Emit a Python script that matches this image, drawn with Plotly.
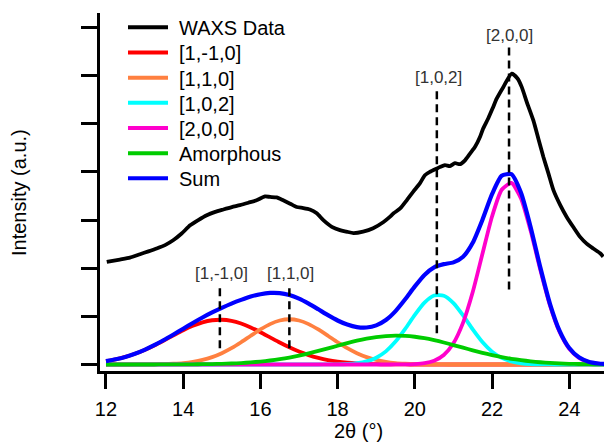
import plotly.graph_objects as go

# ---------------- data ----------------
waxs_x = [12.02, 12.36, 12.62, 12.88, 13.10, 13.31, 13.53, 13.74, 13.96, 14.18,
          14.39, 14.61, 14.83, 15.04, 15.26, 15.47, 15.69, 15.90, 16.12, 16.25,
          16.42, 16.59, 16.77, 16.94, 17.11, 17.28, 17.46, 17.63, 17.85, 18.06,
          18.23, 18.41, 18.66, 18.92, 19.19, 19.36, 19.45, 19.62, 19.79, 19.96,
          20.13, 20.26, 20.39, 20.57, 20.65, 20.78, 20.91, 21.04, 21.17, 21.30,
          21.43, 21.56, 21.69, 21.77, 21.90, 22.03, 22.12, 22.29, 22.51, 22.66,
          22.77, 22.90, 23.07, 23.20, 23.33, 23.46, 23.59, 23.76, 23.93, 24.10,
          24.28, 24.45, 24.62, 24.80, 24.88]
waxs_y = [2.13, 2.18, 2.22, 2.29, 2.35, 2.41, 2.48, 2.58, 2.72, 2.89,
          3.00, 3.10, 3.17, 3.22, 3.27, 3.31, 3.36, 3.41, 3.49, 3.48,
          3.47, 3.41, 3.34, 3.27, 3.25, 3.22, 3.14, 3.00, 2.86, 2.79,
          2.76, 2.73, 2.76, 2.83, 2.96, 3.07, 3.14, 3.24, 3.41, 3.59,
          3.76, 3.93, 4.00, 4.07, 4.10, 4.14, 4.12, 4.18, 4.16, 4.24,
          4.38, 4.52, 4.73, 4.90, 5.11, 5.35, 5.52, 5.76, 6.04, 5.94,
          5.76, 5.45, 5.07, 4.69, 4.31, 3.97, 3.62, 3.32, 3.07, 2.86,
          2.65, 2.51, 2.41, 2.31, 2.24]

two_theta = [12.00, 12.25, 12.50, 12.75, 13.00, 13.25, 13.50, 13.75, 14.00, 14.25,
             14.50, 14.75, 15.00, 15.25, 15.50, 15.75, 16.00, 16.25, 16.50, 16.75,
             17.00, 17.25, 17.50, 17.75, 18.00, 18.25, 18.50, 18.75, 19.00, 19.25,
             19.50, 19.75, 20.00, 20.25, 20.50, 20.75, 21.00, 21.25, 21.50, 21.75,
             22.00, 22.25, 22.50, 22.75, 23.00, 23.25, 23.50, 23.75, 24.00, 24.25,
             24.50, 24.75, 25.00]

peak_1m10 = [0.071, 0.108, 0.157, 0.222, 0.302, 0.396, 0.499, 0.607, 0.712, 0.804,
             0.876, 0.919, 0.929, 0.906, 0.850, 0.770, 0.671, 0.564, 0.457, 0.357,
             0.268, 0.194, 0.136, 0.091, 0.059, 0.037, 0.022, 0.013, 0.007, 0.004,
             0.002, 0.001, 0.000, 0.000, 0.000, 0.000, 0.000, 0.000, 0.000, 0.000,
             0.000, 0.000, 0.000, 0.000, 0.000, 0.000, 0.000, 0.000, 0.000, 0.000,
             0.000, 0.000, 0.000]
peak_110 = [0.000, 0.000, 0.000, 0.001, 0.002, 0.004, 0.008, 0.016, 0.030, 0.055,
            0.094, 0.153, 0.234, 0.338, 0.462, 0.597, 0.728, 0.839, 0.914, 0.940,
            0.914, 0.839, 0.728, 0.597, 0.462, 0.338, 0.234, 0.153, 0.094, 0.055,
            0.030, 0.016, 0.008, 0.004, 0.002, 0.001, 0.000, 0.000, 0.000, 0.000,
            0.000, 0.000, 0.000, 0.000, 0.000, 0.000, 0.000, 0.000, 0.000, 0.000,
            0.000, 0.000, 0.000]
peak_102 = [0.000, 0.000, 0.000, 0.000, 0.000, 0.000, 0.000, 0.000, 0.000, 0.000,
            0.000, 0.000, 0.000, 0.000, 0.000, 0.000, 0.000, 0.000, 0.000, 0.000,
            0.000, 0.000, 0.000, 0.001, 0.003, 0.010, 0.027, 0.065, 0.141, 0.273,
            0.476, 0.740, 1.030, 1.284, 1.432, 1.428, 1.275, 1.019, 0.728, 0.466,
            0.267, 0.137, 0.063, 0.026, 0.009, 0.003, 0.001, 0.000, 0.000, 0.000,
            0.000, 0.000, 0.000]
peak_200 = [0.000, 0.000, 0.000, 0.000, 0.000, 0.000, 0.000, 0.000, 0.000, 0.000,
            0.000, 0.000, 0.000, 0.000, 0.000, 0.000, 0.000, 0.000, 0.000, 0.000,
            0.000, 0.000, 0.000, 0.000, 0.000, 0.000, 0.000, 0.000, 0.000, 0.000,
            0.001, 0.002, 0.008, 0.027, 0.078, 0.198, 0.442, 0.870, 1.505, 2.293,
            3.074, 3.629, 3.770, 3.449, 2.776, 1.967, 1.227, 0.674, 0.326, 0.139,
            0.052, 0.017, 0.005]
amorphous = [0.000, 0.000, 0.000, 0.000, 0.000, 0.000, 0.001, 0.001, 0.002, 0.004,
             0.006, 0.009, 0.014, 0.021, 0.030, 0.044, 0.061, 0.083, 0.111, 0.145,
             0.185, 0.231, 0.282, 0.335, 0.390, 0.444, 0.494, 0.537, 0.570, 0.591,
             0.600, 0.595, 0.576, 0.546, 0.505, 0.457, 0.404, 0.349, 0.294, 0.243,
             0.196, 0.154, 0.119, 0.090, 0.066, 0.047, 0.033, 0.023, 0.015, 0.010,
             0.006, 0.004, 0.002]
fit_sum = [0.071, 0.108, 0.157, 0.223, 0.304, 0.400, 0.508, 0.624, 0.744, 0.863,
           0.976, 1.081, 1.177, 1.265, 1.342, 1.411, 1.460, 1.486, 1.482, 1.442,
           1.367, 1.264, 1.146, 1.024, 0.914, 0.829, 0.777, 0.768, 0.812, 0.923,
           1.109, 1.354, 1.622, 1.861, 2.017, 2.084, 2.121, 2.238, 2.527, 3.002,
           3.537, 3.920, 3.952, 3.565, 2.851, 2.017, 1.261, 0.697, 0.341, 0.149,
           0.058, 0.021, 0.007]

peak_labels = ["[1,-1,0]", "[1,1,0]", "[1,0,2]", "[2,0,0]"]
peak_positions = [14.95, 16.75, 20.57, 22.44]

x_ticks = [12, 14, 16, 18, 20, 22, 24]
y_ticks = [0, 1, 2, 3, 4, 5, 6, 7]
x_title = "2θ (°)"
y_title = "Intensity (a.u.)"

# ---------------- styling ----------------
FONT = "Liberation Sans, Arial, Helvetica, sans-serif"
series = [
    ("WAXS Data", waxs_x, waxs_y, "#000000", 3.8),
    ("[1,-1,0]", two_theta, peak_1m10, "#ff0000", 3.8),
    ("[1,1,0]", two_theta, peak_110, "#ff8040", 3.8),
    ("[1,0,2]", two_theta, peak_102, "#00ffff", 3.8),
    ("[2,0,0]", two_theta, peak_200, "#ff00cc", 3.8),
    ("Amorphous", two_theta, amorphous, "#00cc00", 3.8),
    ("Sum", two_theta, fit_sum, "#0000ff", 4.2),
]

W, H = 604, 442
ML, MR, MT, MB = 100, 0, 13, 71
PW, PH = W - ML - MR, H - MT - MB


def px2paper(px, py):
    return (px - ML) / PW, (H - MB - py) / PH


fig = go.Figure()
for name, xs, ys, color, width in series:
    fig.add_trace(go.Scatter(
        x=xs, y=ys, mode="lines", name=name, showlegend=False,
        line=dict(color=color, width=width, shape="spline", smoothing=0.6),
    ))

shapes = []
annotations = []

# hand-drawn legend (matches reference spacing)
leg_y0 = 27.3
leg_dy = 25.17
for i, (name, xs, ys, color, width) in enumerate(series):
    py = leg_y0 + i * leg_dy
    x0, y0 = px2paper(128, py)
    x1, _ = px2paper(168, py)
    shapes.append(dict(type="line", xref="paper", yref="paper",
                       x0=x0, x1=x1, y0=y0, y1=y0,
                       line=dict(color=color, width=4)))
    tx, ty = px2paper(177, py + 1)
    annotations.append(dict(xref="paper", yref="paper", x=tx, y=ty,
                            text=name, showarrow=False, xanchor="left",
                            yanchor="middle",
                            font=dict(family=FONT, size=20, color="#000000")))

# dashed reflection markers
dash_spans = [(0.34, 1.65), (0.34, 1.65), (0.65, 5.71), (1.56, 6.61)]
label_pos = [(14.98, 1.90), (16.79, 1.90), (20.61, 5.97), (22.45, 6.84)]
for pos, (y0, y1), lab, (lx, ly) in zip(peak_positions, dash_spans, peak_labels, label_pos):
    shapes.append(dict(type="line", xref="x", yref="y", x0=pos, x1=pos,
                       y0=y0, y1=y1,
                       line=dict(color="#000000", width=2.5, dash="8px,5px")))
    annotations.append(dict(xref="x", yref="y", x=lx, y=ly, text=lab,
                            showarrow=False, xanchor="center", yanchor="middle",
                            font=dict(family=FONT, size=17, color="#333333")))

# axis titles
tx, ty = px2paper(358, 431)
annotations.append(dict(xref="paper", yref="paper", x=tx, y=ty, text=x_title,
                        showarrow=False, xanchor="center", yanchor="middle",
                        font=dict(family=FONT, size=20, color="#000000")))
tx, ty = px2paper(19, 193)
annotations.append(dict(xref="paper", yref="paper", x=tx, y=ty, text=y_title,
                        showarrow=False, xanchor="center", yanchor="middle",
                        textangle=-90,
                        font=dict(family=FONT, size=20, color="#000000")))

fig.update_layout(
    width=W, height=H,
    margin=dict(l=ML, r=MR, t=MT, b=MB, pad=0, autoexpand=False),
    paper_bgcolor="white", plot_bgcolor="white",
    font=dict(family=FONT, color="#000000"),
    shapes=shapes, annotations=annotations,
    showlegend=False,
    xaxis=dict(
        range=[11.845, 24.9], tickvals=x_ticks, ticktext=[str(t) for t in x_ticks],
        ticks="outside", ticklen=15, tickwidth=3, tickcolor="#000000",
        showline=True, linewidth=3, linecolor="#000000",
        showgrid=False, zeroline=False, automargin=False,
        tickfont=dict(family=FONT, size=20, color="#000000"),
        ticklabelstandoff=3,
    ),
    yaxis=dict(
        range=[-0.135, 7.30], tickvals=y_ticks, showticklabels=False,
        ticks="outside", ticklen=16, tickwidth=3, tickcolor="#000000",
        showline=True, linewidth=3, linecolor="#000000",
        showgrid=False, zeroline=False, automargin=False,
    ),
)

fig.write_html(
    "out.html",
    config={"displayModeBar": False},
    post_script="document.body.style.margin='0';document.body.style.overflow='hidden';",
)
